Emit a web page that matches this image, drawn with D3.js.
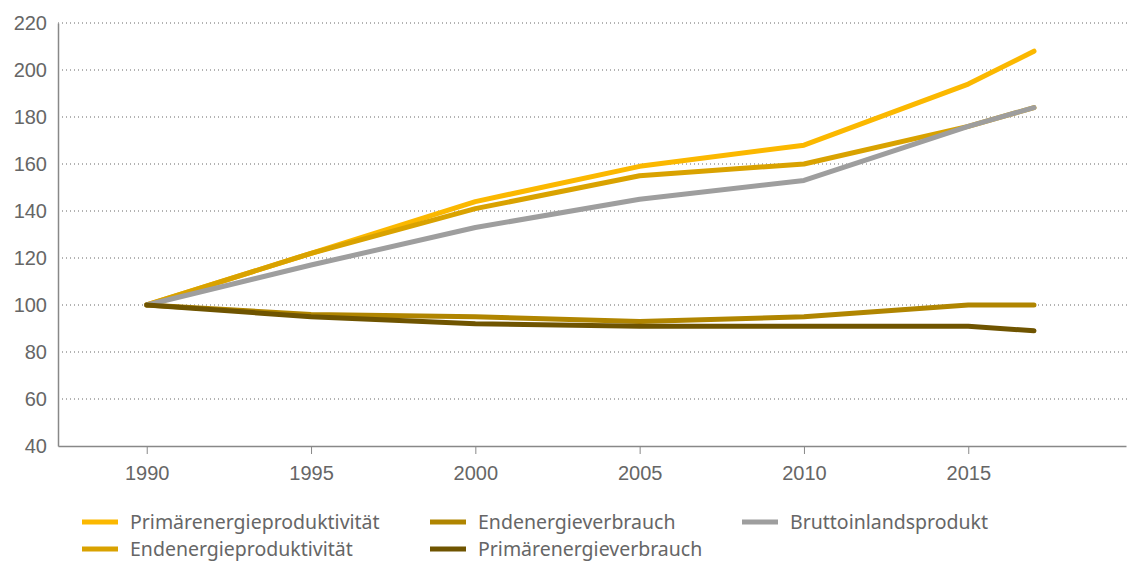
<!DOCTYPE html>
<html>
<head>
<meta charset="utf-8">
<script src="https://cdn.jsdelivr.net/npm/d3@7"></script>
<style>
  body { margin: 0; background: #fff; }
  svg { display: block; font-family: "Noto Sans", sans-serif; }
</style>
</head>
<body>
<svg width="1128" height="562"></svg>
<script>
const years = [1990, 1995, 2000, 2005, 2010, 2015, 2017];
const xTicks = [1990, 1995, 2000, 2005, 2010, 2015];
const yTicks = [40, 60, 80, 100, 120, 140, 160, 180, 200, 220];

const primaerProduktivitaet = [100, 122, 144, 159, 168, 194, 208];
const endProduktivitaet = [100, 122, 141, 155, 160, 176, 184];
const endVerbrauch = [100, 96, 95, 93, 95, 100, 100];
const bip = [100, 117, 133, 145, 153, 176, 184];
const primaerVerbrauch = [100, 95, 92, 91, 91, 91, 89];

const series = [
  { name: 'Primärenergieproduktivität', values: primaerProduktivitaet, color: '#fbb800' },
  { name: 'Endenergieproduktivität', values: endProduktivitaet, color: '#d9a200' },
  { name: 'Endenergieverbrauch', values: endVerbrauch, color: '#b08500' },
  { name: 'Bruttoinlandsprodukt', values: bip, color: '#9e9e9e' },
  { name: 'Primärenergieverbrauch', values: primaerVerbrauch, color: '#6f5400' }
];

const svg = d3.select('svg');
const plotLeft = 58, plotRight = 1126, plotTop = 23, plotBottom = 446;

const x = d3.scaleLinear().domain([1987.3, 2019.8]).range([plotLeft, plotRight]);
const y = d3.scaleLinear().domain([40, 220]).range([plotBottom, plotTop]);

// gridlines
svg.append('g')
  .selectAll('line')
  .data(yTicks.filter(d => d > 40))
  .join('line')
  .attr('x1', plotLeft).attr('x2', 1128)
  .attr('y1', d => y(d)).attr('y2', d => y(d))
  .attr('stroke', '#666')
  .attr('stroke-width', 1)
  .attr('stroke-dasharray', '1,3');

// y axis
const yAxis = svg.append('g')
  .attr('transform', `translate(${plotLeft},0)`)
  .call(d3.axisLeft(y).tickValues(yTicks).tickSize(0).tickPadding(11));
yAxis.select('.domain').attr('stroke', '#888').attr('stroke-width', 1.5);
yAxis.selectAll('text').attr('font-size', 20).attr('fill', '#666');

// x axis
const xAxis = svg.append('g')
  .attr('transform', `translate(0,${plotBottom})`)
  .call(d3.axisBottom(x).tickValues(xTicks).tickFormat(d3.format('d')).tickSize(8).tickSizeOuter(0).tickPadding(12));
xAxis.select('.domain').attr('stroke', '#888').attr('stroke-width', 1.5);
xAxis.selectAll('.tick line').attr('stroke', '#888');
xAxis.selectAll('text').attr('font-size', 20).attr('fill', '#666');

// lines
const line = d3.line()
  .x((d, i) => x(years[i]))
  .y(d => y(d));

svg.append('g')
  .selectAll('path')
  .data(series)
  .join('path')
  .attr('d', d => line(d.values))
  .attr('fill', 'none')
  .attr('stroke', d => d.color)
  .attr('stroke-width', 5)
  .attr('stroke-linecap', 'round')
  .attr('stroke-linejoin', 'round');

// legend
const legendItems = [
  { s: series[0], x: 82, y: 522 },
  { s: series[2], x: 430, y: 522 },
  { s: series[3], x: 742, y: 522 },
  { s: series[1], x: 82, y: 549 },
  { s: series[4], x: 430, y: 549 }
];

const legend = svg.append('g')
  .selectAll('g')
  .data(legendItems)
  .join('g')
  .attr('transform', d => `translate(${d.x},${d.y})`);

legend.append('line')
  .attr('x1', 0).attr('x2', 36)
  .attr('stroke', d => d.s.color)
  .attr('stroke-width', 5);

legend.append('text')
  .attr('x', 48)
  .attr('dy', '0.35em')
  .attr('font-size', 19.5)
  .attr('fill', '#666')
  .text(d => d.s.name);
</script>
</body>
</html>
